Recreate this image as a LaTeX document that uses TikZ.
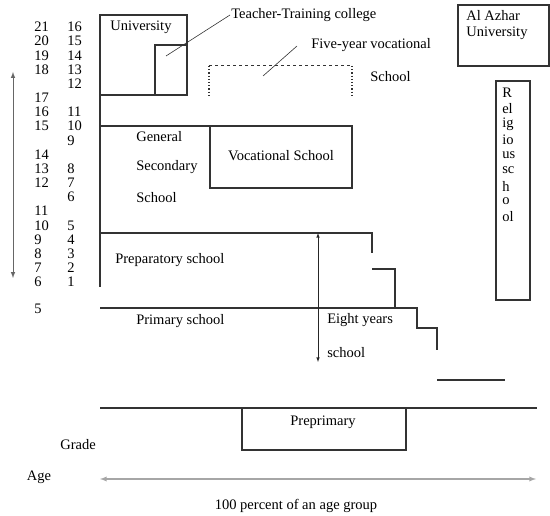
\documentclass[tikz,border=0pt]{standalone}
\usepackage{fontspec}
\setmainfont{Liberation Serif}
\usetikzlibrary{calc,shapes}

\begin{document}
\begin{tikzpicture}[x=1pt,y=-1pt,semithick,>=latex,
  font=\fontsize{14.5}{16}\selectfont,
  lbl/.style={anchor=west,inner sep=1pt},
  wall/.style={draw=black!80,line width=1.3pt}]
  \useasboundingbox (0,0) rectangle (550,516);

  % ages and grades
  \foreach \n/\r in {21/0,20/1,19/2,18/3,17/5,16/6,15/7,14/9,13/10,12/11,11/13,10/14,9/15,8/16,7/17,6/18}
    \node[lbl] (age\n) at (33,{27+14.17*\r}) {\n};
  \foreach \n/\r in {16/0,15/1,14/2,13/3,12/4,11/6,10/7,9/8,8/10,7/11,6/12,5/14,4/15,3/16,2/17,1/18}
    \node[lbl] (grd\n) at (66,{27+14.17*\r}) {\n};
  \node[lbl] (age5) at (33,309) {5};
  \coordinate (ageup) at (13,72);
  \coordinate (agedown) at (13,278);
  \draw[<->,black!60,line width=1pt] (ageup) -- (agedown);

  % university and teacher training
  \draw[wall] (100,287) -- (100,15) -- (187,15) -- (187,95) -- (100,95);
  \draw[wall] (155,95) -- (155,45) -- (187,45);
  \node[lbl] (univ) at (109,27) {University};
  \node[lbl] (ttc) at (230,15) {Teacher-Training college};
  \coordinate (ttcpt) at (166,56);
  \draw[black!80] (ttc.west) -- (ttcpt);

  % five-year vocational school
  \draw[black!80,dashed,line width=1pt] (209,66) -- (352,66);
  \draw[black!80,dotted,line width=1.2pt] (209,66) -- (209,97);
  \draw[black!80,dotted,line width=1.2pt] (352,66) -- (352,97);
  \node[lbl] (fyv) at (310,45) {Five-year vocational};
  \node[lbl] (fyvs) at (369,77) {School};
  \coordinate (fyvtop) at (297,46);
  \coordinate (fyvpt) at (263,76);
  \draw[black!80] (fyvtop) -- (fyvpt);

  % secondary level
  \draw[wall] (100,126) -- (210,126);
  \draw[wall] (210,126) rectangle (352,188);
  \node (voc) at (281,156) {Vocational School};
  \node[lbl] (gen) at (135,137) {General};
  \node[lbl] (sec) at (135,167) {Secondary};
  \node[lbl] (secs) at (135,198) {School};

  % preparatory and primary
  \draw[wall] (100,233) -- (372,233) -- (372,253);
  \draw[wall] (372,269) -- (395,269) -- (395,308);
  \draw[wall] (100,308) -- (417,308) -- (417,328) -- (437,328) -- (437,350);
  \draw[wall] (437,380) -- (505,380);
  \node[lbl] (prep) at (114,260) {Preparatory school};
  \node[lbl] (prim) at (135,321) {Primary school};
  \coordinate (eighttop) at (318,233);
  \coordinate (eightbot) at (318,362);
  \draw[<->,black!85] (eighttop) -- (eightbot);
  \node[lbl] (eight) at (326,320) {Eight years};
  \node[lbl] (eights) at (326,353) {school};

  % Al Azhar
  \draw[wall] (458,5) rectangle (549,66);
  \node[lbl] (azh) at (465,16) {Al Azhar};
  \node[lbl] (azhu) at (465,33) {University};
  \draw[wall] (496,81) rectangle (530,300);
  \foreach \s [count=\i] in {R,el,ig,io,us,sc,h,o,ol}
    \node[lbl] (rel\i) at (501,{77.5+15.5*\i}) {\s};

  % preprimary
  \draw[wall] (100,408) -- (537,408);
  \draw[wall] (242,408) -- (242,450) -- (406,450) -- (406,408);
  \node (pre) at (323,422) {Preprimary};
  \node (grade) at (78,445) {Grade};
  \node (age) at (39,477) {Age};
  \coordinate (grpleft) at (100,479);
  \coordinate (grpright) at (536,479);
  \draw[<->,black!35,line width=1.3pt] (grpleft) -- (grpright);
  \node (grp) at (296,506) {100 percent of an age group};
\end{tikzpicture}
\end{document}
